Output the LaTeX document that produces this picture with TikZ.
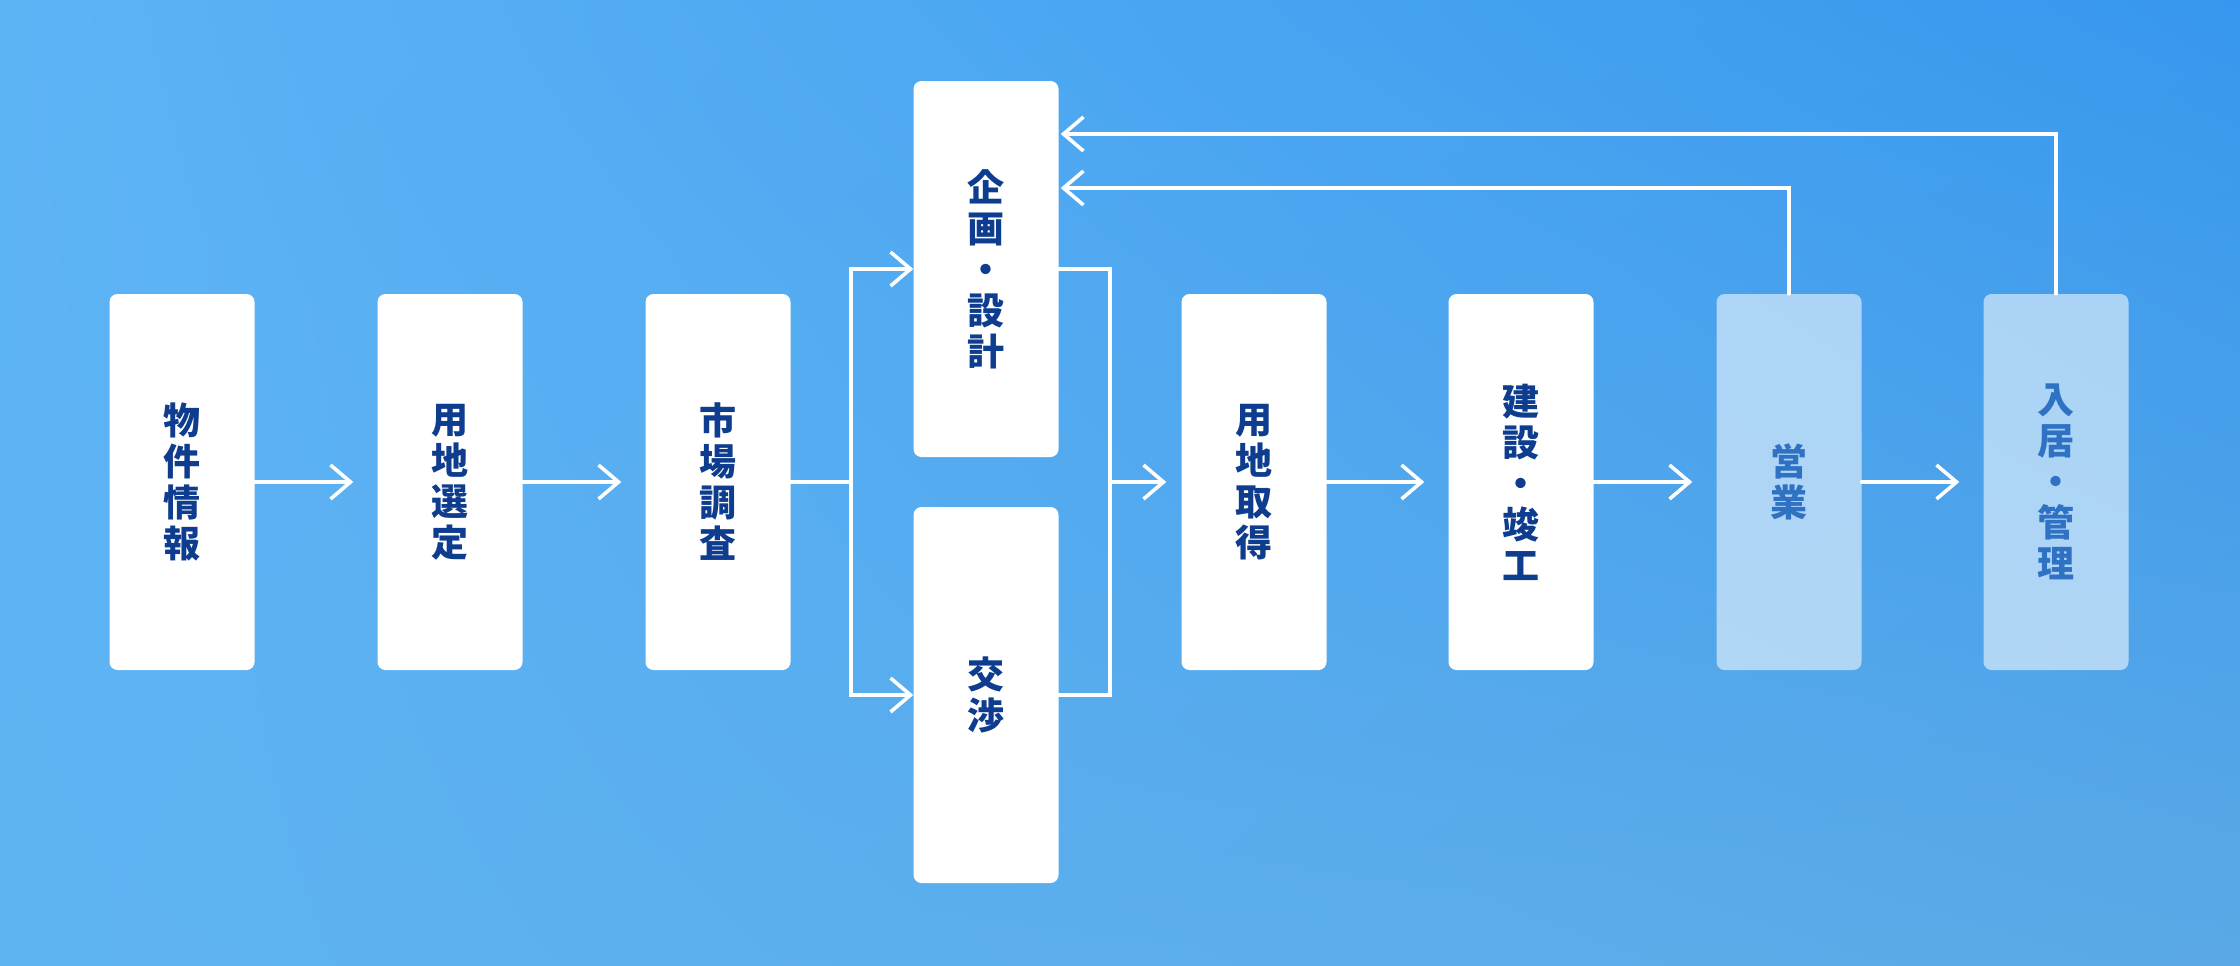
\documentclass[tikz,border=0pt]{standalone}
\usepackage{fontspec}
\newfontfamily\jp{Noto Sans CJK JP}
\usetikzlibrary{arrows.meta,shadings}
\definecolor{bgTL}{HTML}{5DB4F5}
\definecolor{bgTR}{HTML}{3797EE}
\definecolor{bgBL}{HTML}{5EB3F3}
\definecolor{bgBR}{HTML}{5AA9E6}
\definecolor{navy}{HTML}{0E3D8F}
\definecolor{midblue}{HTML}{2F72C4}
\tikzset{
  stage/.style={rectangle, rounded corners=8pt, minimum width=145pt, minimum height=376pt,
    inner sep=0pt, align=center, fill=white, text=navy,
    font=\jp\bfseries\fontsize{37}{41}\selectfont},
  faded/.style={stage, fill=white, fill opacity=0.55, text opacity=1, text=midblue},
  flow/.style={draw=white, line width=3.6pt, line cap=round},
  arr/.style={flow, -{Straight Barb[length=20pt,width=34pt]}},
}
\begin{document}
\begin{tikzpicture}[x=1pt,y=-1pt]
\shade[upper left=bgTL, upper right=bgTR, lower left=bgBL, lower right=bgBR]
  (0,0) rectangle (2240,966);
\useasboundingbox (0,0) rectangle (2240,966);

\node[stage] (b1) at (182,482) {物\\件\\情\\報};
\node[stage] (b2) at (450,482) {用\\地\\選\\定};
\node[stage] (b3) at (718,482) {市\\場\\調\\査};
\node[stage] (b4) at (986,269) {企\\画\\・\\設\\計};
\node[stage] (b5) at (986,695) {交\\渉};
\node[stage] (b6) at (1254,482) {用\\地\\取\\得};
\node[stage] (b7) at (1521,482) {建\\設\\・\\竣\\工};
\node[faded] (b8) at (1789,482) {営\\業};
\node[faded] (b9) at (2056,482) {入\\居\\・\\管\\理};

\coordinate (split) at (851,482);
\coordinate (merge) at (1110,482);
\coordinate (fb1) at (1789,188);
\coordinate (fb2) at (2056,134);

\draw[arr, shorten >=24pt] (b1) -- (b2);
\draw[arr, shorten >=24pt] (b2) -- (b3);
\draw[flow] (b3) -- (split);
\draw[arr] (split) |- (b4);
\draw[arr] (split) |- (b5);
\draw[flow] (b4) -| (merge);
\draw[flow] (b5) -| (merge);
\draw[arr, shorten >=15pt] (merge) -- (b6);
\draw[arr, shorten >=24pt] (b6) -- (b7);
\draw[arr, shorten >=24pt] (b7) -- (b8);
\draw[arr, shorten >=24pt] (b8) -- (b9);
\draw[arr, shorten >=2pt] (b8.north) -- (fb1) -- (b4.east |- fb1);
\draw[arr, shorten >=2pt] (b9.north) -- (fb2) -- (b4.east |- fb2);
\end{tikzpicture}
\end{document}
